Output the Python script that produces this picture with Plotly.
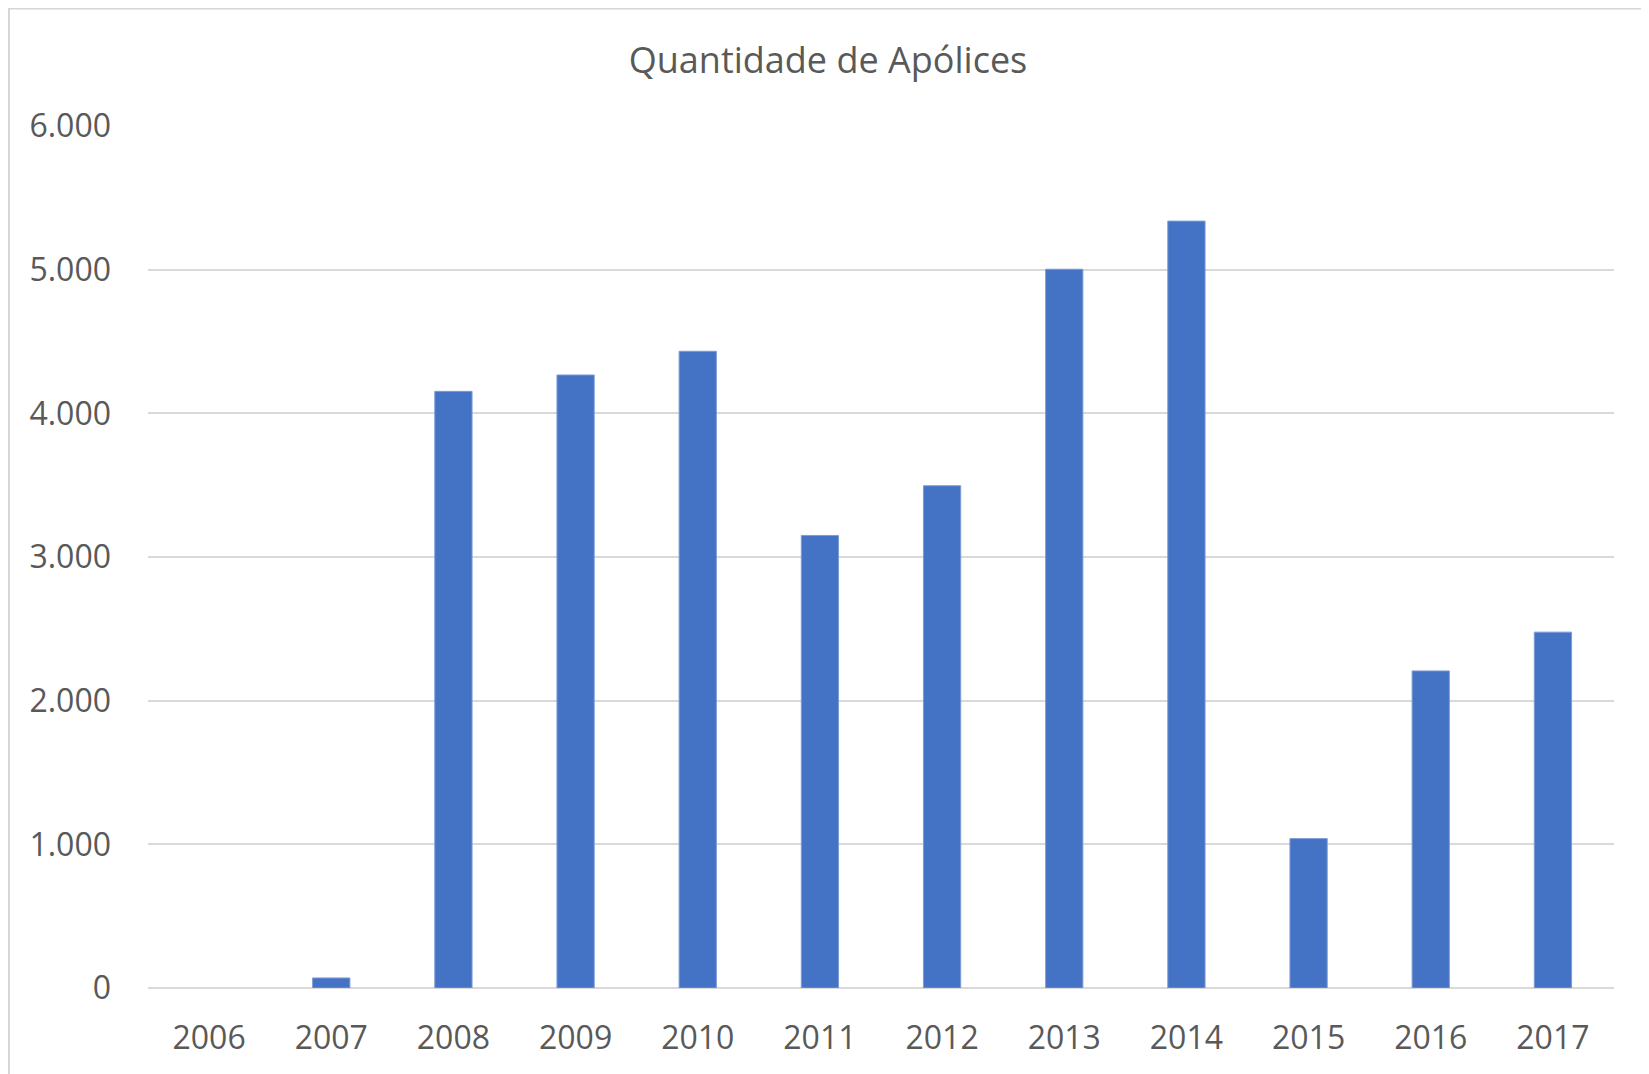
import plotly.graph_objects as go

years = ["2006", "2007", "2008", "2009", "2010", "2011", "2012", "2013", "2014", "2015", "2016", "2017"]
apolices = [0, 70, 4153, 4267, 4432, 3150, 3496, 5003, 5338, 1040, 2207, 2477]
y_ticks = [0, 1000, 2000, 3000, 4000, 5000, 6000]

# page body adds an 8px offset, so the figure is sized to land on the same pixels
W, H = 1641, 1066
L, R, T, B = 140, 35, 118, 86

fig = go.Figure()
fig.add_trace(go.Bar(
    x=years, y=apolices,
    marker=dict(color="#4472c4",
                line=dict(color="#7d9bd6", width=[0 if v == 0 else 1 for v in apolices])),
    hoverinfo="x+y",
))

pw, ph = W - L - R, H - T - B
fig.add_shape(type="rect", xref="paper", yref="paper",
              x0=(1 - L) / pw, x1=(W + 10 - L) / pw,
              y0=(H - B - (H + 10)) / ph, y1=(H - B - 0.5) / ph,
              fillcolor="white", line=dict(color="#d6d6d6", width=2), layer="below")

fig.update_layout(
    width=W, height=H,
    margin=dict(l=L, r=R, t=T, b=B),
    paper_bgcolor="#f3f7e8",
    plot_bgcolor="rgba(0,0,0,0)",
    separators=",.",
    bargap=0.695,
    showlegend=False,
    font=dict(family="Open Sans, Noto Sans, sans-serif", color="#595959", size=32),
    title=dict(text="Quantidade de Apólices", x=820 / W, xanchor="center",
               y=1 - 52 / H, yanchor="middle",
               font=dict(size=36, color="#595959")),
    xaxis=dict(showgrid=False, showline=False, ticks="", ticklabelstandoff=28,
               tickfont=dict(size=32)),
    yaxis=dict(range=[0, 6000], tickvals=y_ticks, tickformat=",.0f",
               gridcolor="#d9d9d9", gridwidth=2, zeroline=True,
               zerolinecolor="#d9d9d9", zerolinewidth=2, showline=False,
               ticks="", ticklabelstandoff=36, tickfont=dict(size=32)),
)

fig.write_html("out.html")
